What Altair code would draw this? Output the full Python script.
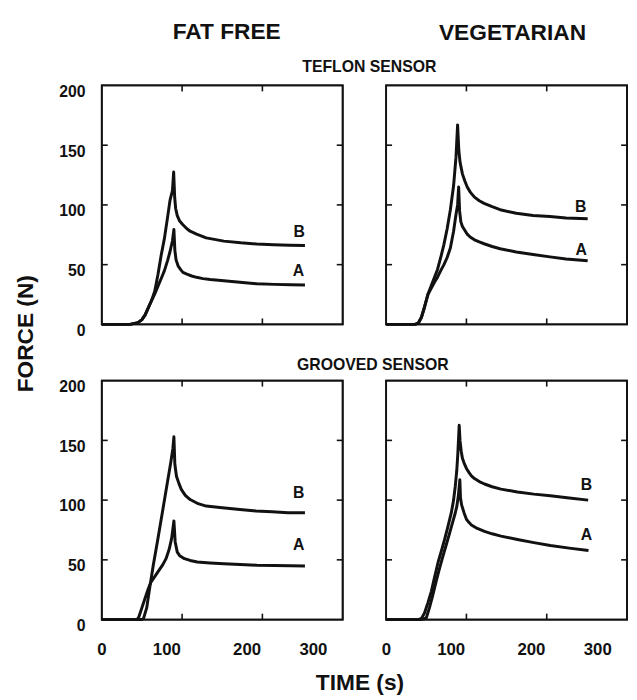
import altair as alt
import pandas as pd

FONT = "Liberation Sans"
INK = "#111111"

# ---------------- data (time in s, force in N) ----------------
# FAT FREE / TEFLON SENSOR
ff_tef_A_t = [0, 35, 45, 50, 54, 58, 62, 66, 70, 74, 78, 82, 85, 88, 89.8, 91, 92.5, 95, 98, 101, 106, 112, 118, 126, 135, 152, 172, 193, 215, 235, 253]
ff_tef_A_F = [0, 0, 1.5, 4, 8, 14, 20, 25.5, 32, 38.4, 45, 53.6, 61, 70, 79.5, 62, 54, 49, 46, 43.5, 42, 40.5, 39.4, 38.3, 37.5, 36.6, 35.3, 34, 33.5, 33.2, 33]
ff_tef_B_t = [0, 35, 45, 50, 54, 58, 62, 66, 70, 74, 78, 82, 85, 88, 89.5, 90.8, 92, 94, 97, 101, 106, 110, 118, 130, 152, 173, 193, 214, 234, 253]
ff_tef_B_F = [0, 0, 1.5, 4, 8, 14, 20, 28, 42, 58, 72, 90, 104, 112, 127.5, 106, 97, 91, 86.5, 83.4, 80, 78, 75.5, 72.4, 69.7, 68.3, 67.3, 66.6, 66.2, 66]

# VEGETARIAN / TEFLON SENSOR
veg_tef_A_t = [0, 36, 40, 44, 48, 52, 56, 60, 64, 68, 72, 76, 80, 84, 87, 89, 90.3, 91.5, 93, 95, 97, 101, 105, 110, 116, 122, 132, 142, 162, 183, 204, 224, 251]
veg_tef_A_F = [0, 0, 1, 6, 15, 25, 30, 35, 39.5, 45, 50, 56, 64, 78, 92, 100, 115, 95, 86, 82, 79.8, 75.5, 72.9, 70.8, 69, 67.5, 65.2, 63.3, 60.6, 58.5, 56.5, 54.8, 53.2]
veg_tef_B_t = [0, 36, 40, 44, 48, 52, 56, 60, 64, 68, 72, 76, 80, 84, 87, 89, 90.5, 92, 95, 98, 101, 105, 110, 116, 122, 132, 142, 162, 183, 204, 224, 251]
veg_tef_B_F = [0, 0, 1, 6, 15, 25, 32, 39, 46, 56, 67, 80, 96, 116, 140, 167, 146, 136, 126, 120, 115, 110.5, 106.5, 103.5, 101.3, 98.5, 96, 93, 91.2, 90.3, 89, 88.4]

# FAT FREE / GROOVED SENSOR
ff_grv_A_t = [0, 44, 46, 50, 54, 58, 61, 64, 68, 72, 76, 80, 84, 87, 89.8, 91.4, 94, 97, 103, 110, 119, 135, 152, 172, 193, 215, 235, 253]
ff_grv_A_F = [0, 0, 2, 10, 18, 26, 31, 34, 38, 42, 46, 51, 59, 68, 82.6, 65, 56.5, 53.5, 51, 49.5, 48.2, 47.4, 46.8, 46.1, 45.5, 45.2, 45, 44.9]
ff_grv_B_t = [0, 50, 52, 56, 60, 64, 70, 76, 82, 86, 88.5, 89.8, 91, 93, 96, 99, 104, 110, 120, 130, 150, 172, 192, 212, 232, 253]
ff_grv_B_F = [0, 0, 1, 10, 28, 45, 68, 92, 116, 132, 143, 153, 130, 120, 114, 109, 104, 100.5, 97, 95, 93.6, 92.2, 90.9, 90.2, 89.5, 89.5]

# VEGETARIAN / GROOVED SENSOR
veg_grv_A_t = [0, 42, 46, 50, 54, 58.2, 62.3, 66.4, 70.5, 74.6, 78.7, 82.8, 86, 88.1, 90, 91.8, 92.6, 94, 97.1, 100, 103.3, 106.2, 113.5, 122.5, 132, 143, 163.5, 184, 204.5, 228, 252]
veg_grv_A_F = [0, 0, 0.5, 1.3, 10, 20.7, 32, 42.7, 52.5, 62, 71.5, 81.3, 89, 95, 104, 117, 102, 96, 89.3, 84, 81.2, 79.2, 76.3, 73.8, 71.8, 69.9, 67, 64.4, 62, 59.8, 57.8]
veg_grv_B_t = [0, 40, 44, 47.8, 52, 56.2, 60.5, 64.8, 69, 73, 77, 81.2, 84, 86.1, 88, 89.3, 91, 92, 93.5, 95, 97.1, 100, 103.3, 106.2, 110, 116, 122.5, 132, 143, 163.5, 184, 204.5, 228, 251.6]
veg_grv_B_F = [0, 0, 1, 5.5, 14, 23.4, 36, 48.2, 58, 67.5, 78, 89.5, 100, 111.6, 125, 139, 162.6, 150, 141, 135, 131, 126.5, 123, 120.3, 118, 115.5, 113.5, 111.2, 109.2, 106.8, 105, 103.6, 101.8, 100]

# curve letters and where they are written (A, B)
curve_names = ["A", "B"]
ff_tef_lab_t = [245, 246]
ff_tef_lab_F = [44.6, 77.3]
veg_tef_lab_t = [243, 242.2]
veg_tef_lab_F = [62.2, 98.1]
ff_grv_lab_t = [245.2, 245.2]
ff_grv_lab_F = [62, 106]
veg_grv_lab_t = [249.6, 249.6]
veg_grv_lab_F = [71, 113]

x_label_values = [0, 100, 200, 300]
y_label_values = [0, 50, 100, 150, 200]
inner_x_ticks = [100, 200]
inner_y_ticks = [50, 100, 150]

W, H = 244, 242
TICK = 6


def curves(tA, FA, tB, FB):
    return pd.DataFrame({
        "t": tA + tB,
        "F": FA + FB,
        "curve": ["A"] * len(tA) + ["B"] * len(tB),
    })


def labels(lt, lF):
    return pd.DataFrame({"t": lt, "F": lF, "curve": curve_names})


def title_kw(angle, tx, ty, size, baseline="alphabetic"):
    return dict(titleFont=FONT, titleFontSize=size, titleFontWeight="bold", titleColor=INK,
                titleAngle=angle, titleAlign="center", titleBaseline=baseline,
                titleX=tx, titleY=ty)


def x_axis(show_labels, tkw=None):
    kw = dict(values=x_label_values, labels=show_labels, ticks=False, domain=False, grid=False,
              labelFont=FONT, labelFontSize=17, labelFontWeight="bold", labelColor=INK,
              labelPadding=22,
              labelOffset={"condition": {"test": "datum.value === 0", "value": -5}, "value": -16})
    if tkw:
        kw.update(tkw)
    return alt.Axis(**kw)


def y_axis(show_labels, tkw=None):
    kw = dict(values=y_label_values, labels=show_labels, ticks=False, domain=False, grid=False,
              labelFont=FONT, labelFontSize=16, labelFontWeight="bold", labelColor=INK,
              labelPadding=17, labelOffset=6)
    if tkw:
        kw.update(tkw)
    return alt.Axis(**kw)


def panel(df, lab, xaxis, xtitle, yaxis, ytitle):
    xs = alt.Scale(domain=[0, 300], nice=False, zero=False)
    ys = alt.Scale(domain=[0, 200], nice=False)

    def X(f="t"):
        return alt.X(f"{f}:Q", scale=xs, axis=xaxis, title=xtitle)

    def Y(f="F"):
        return alt.Y(f"{f}:Q", scale=ys, axis=yaxis, title=ytitle)

    xt = pd.DataFrame({"t": inner_x_ticks})
    yt = pd.DataFrame({"F": inner_y_ticks})
    rule = dict(color=INK, strokeWidth=1.6)
    frame = alt.Chart(pd.DataFrame({"frame": [0]})).mark_rect(
        fillOpacity=0, stroke=INK, strokeWidth=1.8).encode(
        x=alt.value(0), x2=alt.value(W), y=alt.value(0), y2=alt.value(H))
    top = alt.Chart(xt).mark_rule(**rule).encode(x=X(), y=alt.value(0), y2=alt.value(TICK))
    bot = alt.Chart(xt).mark_rule(**rule).encode(x=X(), y=alt.value(H - TICK), y2=alt.value(H))
    lef = alt.Chart(yt).mark_rule(**rule).encode(y=Y(), x=alt.value(0), x2=alt.value(TICK))
    rig = alt.Chart(yt).mark_rule(**rule).encode(y=Y(), x=alt.value(W - TICK), x2=alt.value(W))
    lines = alt.Chart(df).mark_line(color=INK, strokeWidth=3, strokeJoin="round").encode(
        x=X(), y=Y(), detail="curve:N")
    text = alt.Chart(lab).mark_text(font=FONT, fontSize=16, fontWeight="bold", color=INK,
                                    align="center", baseline="middle").encode(
        x=X(), y=Y(), text="curve:N")
    return alt.layer(frame, top, bot, lef, rig, lines, text).properties(
        width=W, height=H,
        view=alt.ViewBackground(stroke=INK, strokeWidth=1.8, fill="white"))


TL = panel(curves(ff_tef_A_t, ff_tef_A_F, ff_tef_B_t, ff_tef_B_F), labels(ff_tef_lab_t, ff_tef_lab_F),
           x_axis(False, title_kw(0, 126, -289.3, 23)), "FAT FREE",
           y_axis(True, title_kw(270, -77, 251, 23, "middle")), "FORCE (N)")
TR = panel(curves(veg_tef_A_t, veg_tef_A_F, veg_tef_B_t, veg_tef_B_F), labels(veg_tef_lab_t, veg_tef_lab_F),
           x_axis(False, title_kw(0, 127.5, -289, 23)), "VEGETARIAN",
           y_axis(False, title_kw(0, -17.5, -14, 16)), "TEFLON SENSOR")
BL = panel(curves(ff_grv_A_t, ff_grv_A_F, ff_grv_B_t, ff_grv_B_F), labels(ff_grv_lab_t, ff_grv_lab_F),
           x_axis(True, title_kw(0, 261, 71, 23)), "TIME (s)",
           y_axis(True, title_kw(0, 274, -11.3, 16)), "GROOVED SENSOR")
BR = panel(curves(veg_grv_A_t, veg_grv_A_F, veg_grv_B_t, veg_grv_B_F), labels(veg_grv_lab_t, veg_grv_lab_F),
           x_axis(True), None,
           y_axis(False), None)

chart = alt.concat(TL, TR, BL, BR, columns=2, spacing={"row": 57, "column": 44}, bounds="flush").properties(
    padding={"left": 6, "top": 7, "right": 0, "bottom": 0}
).configure_view(stroke=INK, strokeWidth=1.8).configure(background="white")

chart.save("out.html", embed_options={"renderer": "svg", "actions": False})
